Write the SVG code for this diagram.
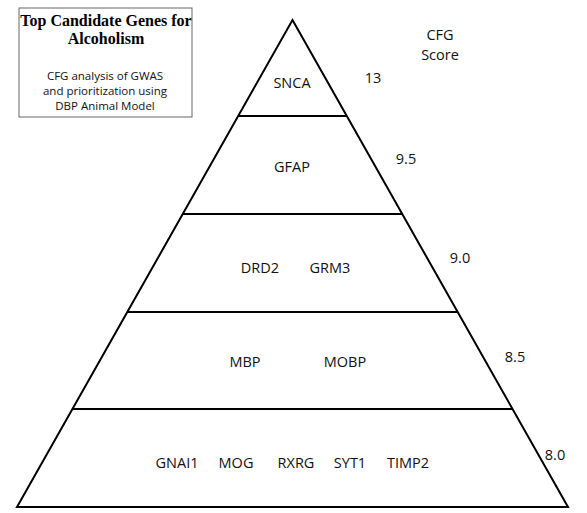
<svg xmlns="http://www.w3.org/2000/svg" width="587" height="513" viewBox="0 0 587 513">
<style>
.ln{stroke:#000;stroke-width:2;fill:none}
.t{font-family:"Open Sans","Liberation Sans",sans-serif;font-size:14.5px;fill:#111;text-anchor:middle}
.s{font-family:"Open Sans","Liberation Sans",sans-serif;font-size:11.5px;fill:#111;text-anchor:middle}
.h{font-family:"Liberation Serif",serif;font-size:16px;font-weight:bold;fill:#000;text-anchor:middle}
</style>
<rect width="587" height="513" fill="#fff"/>
<g id="title">
<rect x="19" y="8" width="173" height="109" fill="#fff" stroke="#666" stroke-width="1"/>
<text class="h" x="106" y="26">Top Candidate Genes for</text>
<text class="h" x="106" y="44">Alcoholism</text>
<text class="s" x="105" y="80">CFG analysis of GWAS</text>
<text class="s" x="105" y="95">and prioritization using</text>
<text class="s" x="105" y="110">DBP Animal Model</text>
</g>
<g id="connectors">
<polygon class="ln" points="292.5,20 568,507 17,507"/>
<line class="ln" x1="238" y1="116" x2="347" y2="116"/>
<line class="ln" x1="182" y1="214" x2="403" y2="214"/>
<line class="ln" x1="127" y1="312" x2="458" y2="312"/>
<line class="ln" x1="72" y1="409" x2="513" y2="409"/>
</g>
<g id="tier1"><text class="t" x="292" y="88">SNCA</text></g>
<g id="tier2"><text class="t" x="292" y="172">GFAP</text></g>
<g id="tier3"><text class="t" x="260" y="273">DRD2</text><text class="t" x="330" y="273">GRM3</text></g>
<g id="tier4"><text class="t" x="245" y="367">MBP</text><text class="t" x="345" y="367">MOBP</text></g>
<g id="tier5"><text class="t" x="177" y="468">GNAI1</text><text class="t" x="236" y="468">MOG</text><text class="t" x="296" y="468">RXRG</text><text class="t" x="350" y="468">SYT1</text><text class="t" x="408" y="468">TIMP2</text></g>
<g id="scores">
<text class="t" x="440" y="40">CFG</text>
<text class="t" x="440" y="60">Score</text>
<text class="t" x="373" y="83">13</text>
<text class="t" x="406" y="164">9.5</text>
<text class="t" x="460" y="263">9.0</text>
<text class="t" x="515" y="362">8.5</text>
<text class="t" x="555" y="460">8.0</text>
</g>
</svg>
